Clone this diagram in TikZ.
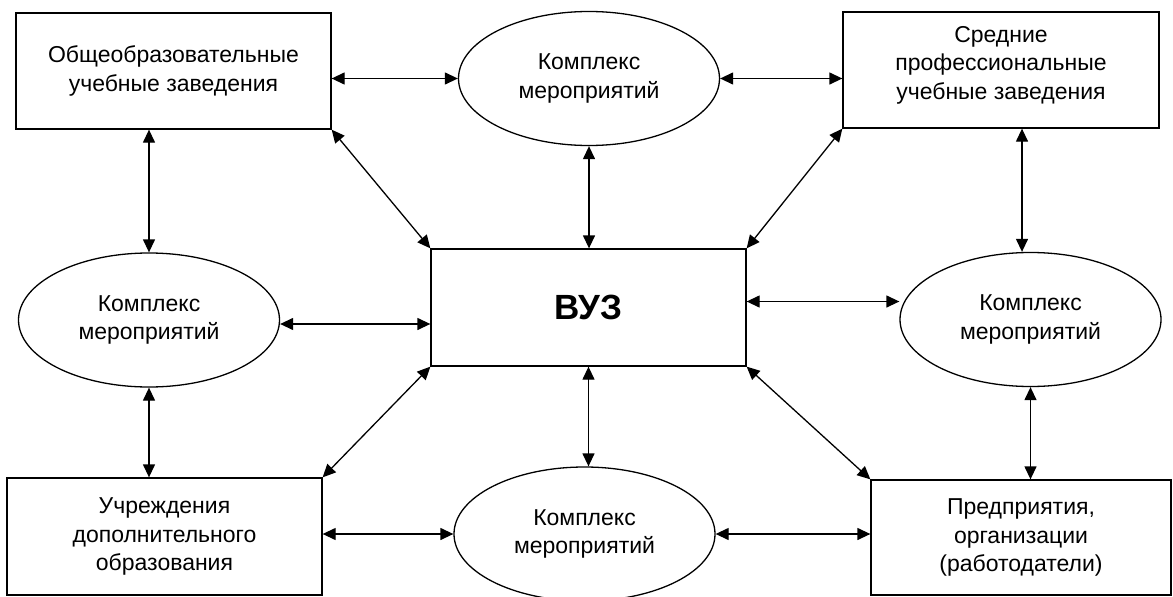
\documentclass[tikz,border=0pt]{standalone}
\usepackage{fontspec}
\setmainfont{Liberation Sans}
\usetikzlibrary{arrows.meta,shapes.geometric}
\begin{document}
\begin{tikzpicture}[x=1pt,y=-1pt,
  box/.style={draw,rectangle,line width=1.3pt,inner sep=0pt,align=center,
    font=\fontsize{23}{28.5}\selectfont},
  oval/.style={draw,ellipse,line width=1.3pt,inner sep=0pt,align=center,
    minimum width=261pt,minimum height=134pt,font=\fontsize{23}{28.5}\selectfont},
  arr/.style={line width=1.3pt,
    {Triangle[length=13pt,width=12pt]}-{Triangle[length=13pt,width=12pt]}}]
\useasboundingbox (0,0) rectangle (1173,597);
\node[box,minimum width=315pt,minimum height=116pt] (A) at (173.5,71) {Общеобразовательные\\учебные заведения};
\node[oval] (E1) at (589,78.5) {Комплекс\\мероприятий};
\node[box,minimum width=316pt,minimum height=116pt] (B) at (1001,70) {Средние\\профессиональные\\учебные заведения\\[-22pt]\strut};
\node[oval] (E2) at (149,320) {Комплекс\\мероприятий};
\node[box,minimum width=315pt,minimum height=117pt,font=\bfseries\fontsize{35}{40}\selectfont] (V) at (588.5,307.5) {ВУЗ};
\node[oval] (E3) at (1030.5,319.5) {Комплекс\\мероприятий};
\node[box,minimum width=315pt,minimum height=117pt] (C) at (164.5,536.5) {Учреждения\\дополнительного\\образования};
\node[oval] (E4) at (584.5,534) {Комплекс\\мероприятий};
\node[box,minimum width=300pt,minimum height=115pt] (D) at (1021,537.5) {Предприятия,\\организации\\(работодатели)};
% connectors
\draw[arr] (A.east |- E1.west) -- (E1.west);
\draw[arr] (E1.east) -- (E1.east -| B.west);
\draw[arr] (E2.north |- A.south) -- (E2.north);
\draw[arr] (E2.south) -- (E2.south |- C.north);
\draw[arr] ([yshift=-4pt]E2.east) -- ([yshift=-4pt]E2.east -| V.west);
\draw[arr] (E1.south) -- (E1.south |- V.north);
\draw[arr] (V.south) -- (V.south |- E4.north);
\draw[arr] ([yshift=6pt]V.east) -- ([yshift=6pt]V.east -| E3.west);
\draw[arr] ([xshift=21pt]B.south) -- ([xshift=21pt]B.south |- E3.north);
\draw[arr] (E3.south) -- (E3.south |- D.north);
\draw[arr] (E4.west -| C.east) -- (E4.west);
\draw[arr] (E4.east) -- (E4.east -| D.west);
\draw[arr] (A.south east) -- (V.north west);
\draw[arr] (B.south west) -- (V.north east);
\draw[arr] (V.south west) -- (C.north east);
\draw[arr] (V.south east) -- (D.north west);
\end{tikzpicture}
\end{document}
